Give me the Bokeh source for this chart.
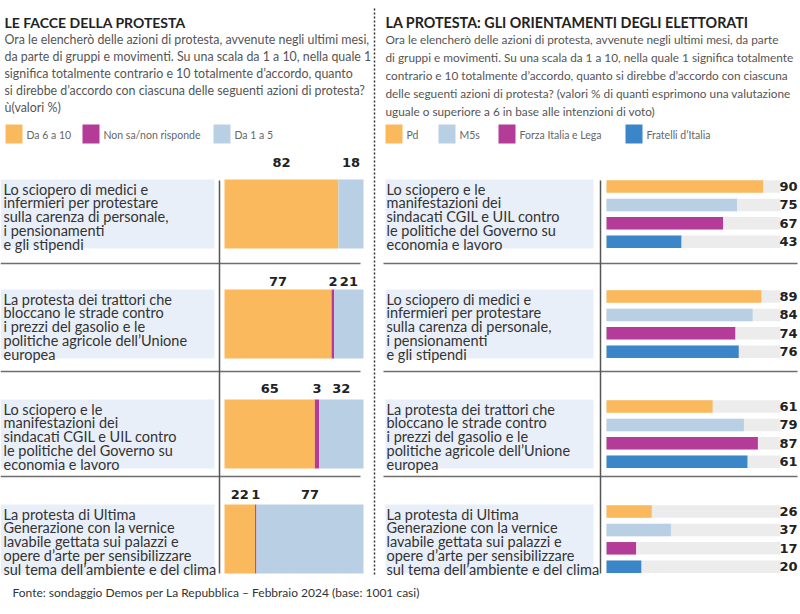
from bokeh.plotting import figure
from bokeh.models import Range1d
from bokeh.core.properties import value
from bokeh.embed import file_html
from bokeh.resources import INLINE

# ---------------- DATA ----------------
left_title = "LE FACCE DELLA PROTESTA"
left_sub = ("Ora le elencherò delle azioni di protesta, avvenute negli ultimi mesi,\n"
            "da parte di gruppi e movimenti. Su una scala da 1 a 10, nella quale 1\n"
            "significa totalmente contrario e 10 totalmente d’accordo, quanto\n"
            "si direbbe d’accordo con ciascuna delle seguenti azioni di protesta?\n"
            "ù(valori %)")
left_legend = ["Da 6 a 10", "Non sa/non risponde", "Da 1 a 5"]
left_questions = [
    "Lo sciopero di medici e\ninfermieri per protestare\nsulla carenza di personale,\ni pensionamenti\ne gli stipendi",
    "La protesta dei trattori che\nbloccano le strade contro\ni prezzi del gasolio e le\npolitiche agricole dell’Unione\neuropea",
    "Lo sciopero e le\nmanifestazioni dei\nsindacati CGIL e UIL contro\nle politiche del Governo su\neconomia e lavoro",
    "La protesta di Ultima\nGenerazione con la vernice\nlavabile gettata sui palazzi e\nopere d’arte per sensibilizzare\nsul tema dell’ambiente e del clima",
]
agree = [82, 77, 65, 22]
dontknow = [0, 2, 3, 1]
disagree = [18, 21, 32, 77]

right_title = "LA PROTESTA: GLI ORIENTAMENTI DEGLI ELETTORATI"
right_sub = ("Ora le elencherò delle azioni di protesta, avvenute negli ultimi mesi, da parte\n"
             "di gruppi e movimenti. Su una scala da 1 a 10, nella quale 1 significa totalmente\n"
             "contrario e 10 totalmente d’accordo, quanto si direbbe d’accordo con ciascuna\n"
             "delle seguenti azioni di protesta? (valori % di quanti esprimono una valutazione\n"
             "uguale o superiore a 6 in base alle intenzioni di voto)")
right_legend = ["Pd", "M5s", "Forza Italia e Lega", "Fratelli d’Italia"]
right_questions = [
    "Lo sciopero e le\nmanifestazioni dei\nsindacati CGIL e UIL contro\nle politiche del Governo su\neconomia e lavoro",
    "Lo sciopero di medici e\ninfermieri per protestare\nsulla carenza di personale,\ni pensionamenti\ne gli stipendi",
    "La protesta dei trattori che\nbloccano le strade contro\ni prezzi del gasolio e le\npolitiche agricole dell’Unione\neuropea",
    "La protesta di Ultima\nGenerazione con la vernice\nlavabile gettata sui palazzi e\nopere d’arte per sensibilizzare\nsul tema dell’ambiente e del clima",
]
pd_vals = [90, 89, 61, 26]
m5s_vals = [75, 84, 79, 37]
fil_vals = [67, 74, 87, 17]
fdi_vals = [43, 76, 81, 20]
fdi_labels = ["43", "76", "61", "20"]  # as printed in the source

footer = "Fonte: sondaggio Demos per La Repubblica – Febbraio 2024 (base: 1001 casi)"

# ---------------- STYLE / LAYOUT ----------------
ORANGE = "#fbb95e"
LBLUE = "#b9d0e4"
PURPLE = "#b43c98"
BLUE = "#3a86c9"
TRACK = "#ececec"
BOX = "#e9eff8"
TXT = "#333333"
SUB = "#555555"

W, H = 800, 614
row_top = [179, 289, 399, 504]
row_h = 69
num_y = [162, 281, 388, 494]
sep_y = [263, 371, 476]

L0, LS = 224.0, 1.39   # left bars origin (px) and px per %
R0, RS = 606.0, 1.74   # right bars origin (px) and px per %

p = figure(width=W, height=H, x_range=Range1d(0, W), y_range=Range1d(H, 0),
           output_backend="svg", toolbar_location=None, min_border=0,
           background_fill_color="white", border_fill_color="white")
p.axis.visible = False
p.grid.visible = False
p.outline_line_color = None
p.extra_x_ranges = {
    "left": Range1d(-L0 / LS, (W - L0) / LS),
    "right": Range1d(-R0 / RS, (W - R0) / RS),
}

def txt(x, y, s, size, color=TXT, font="Lato", style="normal", align="left",
        baseline="middle", lh=1.2, x_range_name="default"):
    p.text(x=[x], y=[y], text=[s], text_font=value(font), text_font_size=value(f"{size}px"),
           text_font_style=style, text_color=color, text_align=align,
           text_baseline=baseline, text_line_height=lh, x_range_name=x_range_name)

# titles and subtitles
txt(4, 22, left_title, 14, color="#222222", style="bold")
txt(385, 22, right_title, 14.3, color="#222222", style="bold")
txt(4, 31, left_sub, 12.4, color=SUB, baseline="top", lh=1.14)
txt(385, 31, right_sub, 11.8, color=SUB, baseline="top", lh=1.2)

# legends
leg_left_x = [5, 82, 213]
for x, lab, c in zip(leg_left_x, left_legend, [ORANGE, PURPLE, LBLUE]):
    p.quad(left=x, right=x + 17, top=124, bottom=143, fill_color=c, line_color=None)
    txt(x + 21, 134, lab, 10.5, color="#666666")
leg_right_x = [385, 438, 498, 625]
for x, lab, c in zip(leg_right_x, right_legend, [ORANGE, LBLUE, PURPLE, BLUE]):
    p.quad(left=x, right=x + 17, top=124, bottom=143, fill_color=c, line_color=None)
    txt(x + 21, 134, lab, 10.5, color="#666666")

# divider
p.line(x=[374, 374], y=[8, 576], line_color="#333333", line_width=1.5, line_dash="2 2")

# label boxes and question texts
for i in range(4):
    p.quad(left=0, right=214, top=row_top[i], bottom=row_top[i] + row_h, fill_color=BOX, line_color=None)
    p.quad(left=385, right=593, top=row_top[i], bottom=row_top[i] + row_h, fill_color=BOX, line_color=None)
    txt(3, row_top[i] + 1, left_questions[i], 14.5, baseline="top", lh=0.82)
    txt(386, row_top[i] + 1, right_questions[i], 14.5, baseline="top", lh=0.82)

# separators and axis lines
for y in sep_y:
    p.line(x=[0, 360], y=[y, y], line_color="#6e6e6e", line_width=1.5)
    p.line(x=[383, 797], y=[y, y], line_color="#6e6e6e", line_width=1.5)
p.line(x=[219, 219], y=[180, 573], line_color="#555555", line_width=1.5)
p.line(x=[600, 600], y=[180, 573], line_color="#555555", line_width=1.5)

# left stacked bars
yc = [t + row_h / 2 for t in row_top]
a_end = [a for a in agree]
d_end = [a + d for a, d in zip(agree, dontknow)]
z_end = [a + d + z for a, d, z in zip(agree, dontknow, disagree)]
p.hbar(y=yc, height=row_h, left=0, right=a_end, fill_color=ORANGE, line_color=None, x_range_name="left")
p.hbar(y=yc, height=row_h, left=a_end, right=d_end, fill_color=PURPLE, line_color=None, x_range_name="left")
p.hbar(y=yc, height=row_h, left=d_end, right=z_end, fill_color=LBLUE, line_color=None, x_range_name="left")

for i in range(4):
    segs = [(0, a_end[i], agree[i]), (a_end[i], d_end[i], dontknow[i]), (d_end[i], z_end[i], disagree[i])]
    for s0, s1, v in segs:
        if v > 0:
            p.text(x=[(s0 + s1) / 2], y=[num_y[i]], text=[str(v)], text_font=value("DejaVu Sans"),
                   text_font_size=value("13px"), text_font_style="bold", text_color="#222222",
                   text_align="center", text_baseline="middle", x_range_name="left")

# right grouped bars
series = [(pd_vals, ORANGE, [str(v) for v in pd_vals]),
          (m5s_vals, LBLUE, [str(v) for v in m5s_vals]),
          (fil_vals, PURPLE, [str(v) for v in fil_vals]),
          (fdi_vals, BLUE, fdi_labels)]
for k, (vals, col, labs) in enumerate(series):
    ys = [t + 7 + k * 18.4 for t in row_top]
    p.hbar(y=ys, height=12.5, left=0, right=[100] * 4, fill_color=TRACK, line_color=None, x_range_name="right")
    p.hbar(y=ys, height=12.5, left=0, right=vals, fill_color=col, line_color=None, x_range_name="right")
    p.text(x=[797] * 4, y=ys, text=labs, text_font=value("DejaVu Sans"), text_font_size=value("13px"),
           text_font_style="bold", text_color="#222222", text_align="right", text_baseline="middle")

# footer
txt(12, 592, footer, 12, color=TXT)

open("out.html", "w").write(file_html(p, INLINE))
